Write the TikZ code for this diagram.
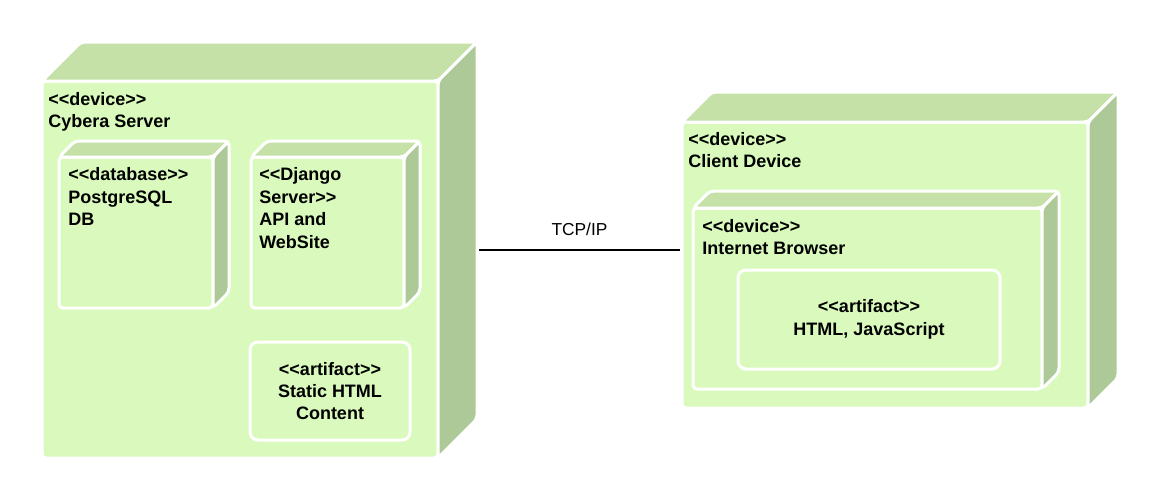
\documentclass[tikz,border=0pt]{standalone}
\usepackage{fontspec}
\setmainfont{Liberation Sans}[Ligatures=TeXOff]
\usetikzlibrary{positioning}

\definecolor{frontgreen}{RGB}{217,250,188}
\definecolor{topgreen}{RGB}{197,225,167}
\definecolor{sidegreen}{RGB}{173,201,151}

\tikzset{
	face/.style={draw=white,line width=2.25pt,rounded corners=3pt},
	front/.style={face,fill=frontgreen,rectangle,inner sep=0pt,outer sep=0pt},
	lbl/.style={font=\bfseries\fontsize{13.5}{16.8}\selectfont,align=left,inner sep=0pt},
	art/.style={front,rounded corners=6pt,font=\bfseries\fontsize{13.5}{16.8}\selectfont,align=center},
}

% 3D device node: name, x0, y0, x1, y1 (front face), depth
\newcommand{\devnode}[6]{%
	\node [front,minimum width={(#4-#2)*0.75pt},minimum height={(#5-#3)*0.75pt}] (#1) at ({(#2+#4)/2},{(#3+#5)/2}) {};
	\draw [face,fill=topgreen] (#1.north west) -- ++(#6,-#6) -- ++({#4-#2},0) -- (#1.north east) -- cycle;
	\draw [face,fill=sidegreen] (#1.north east) -- ++(#6,-#6) -- ++(0,{#5-#3}) -- (#1.south east) -- cycle;
	\coordinate (#1-e) at ({#4+#6+2},{(#3-#6+#5)/2});
	\coordinate (#1-w) at ({#2-2},{(#3-#6+#5)/2});
}

\begin{document}
\begin{tikzpicture}[x=0.75pt,y=-0.75pt]
	\useasboundingbox (0,0) rectangle (1160,501);
	% server side
	\devnode{srv}{42}{81}{438}{458}{39}
	\node [lbl,below right=8.25pt and 4.5pt of srv.north west] (srvtxt) {<<device>>\\Cybera Server};
	\devnode{db}{59}{157}{213}{308}{16}
	\node [lbl,below right=8pt and 6.75pt of db.north west] (dbtxt) {<<database>>\\PostgreSQL\\DB};
	\devnode{dj}{251}{157}{404}{308}{16}
	\node [lbl,below right=8pt and 6pt of dj.north west] (djtxt) {<<Django\\Server>>\\API and\\WebSite};
	\node [art,minimum width=120pt,minimum height=73.5pt] (static) at (330,391) {<<artifact>>\\Static HTML\\Content};
	% client side
	\devnode{cli}{682}{122}{1088}{408}{30}
	\node [lbl,below right=7.5pt and 4.5pt of cli.north west] (clitxt) {<<device>>\\Client Device};
	\devnode{br}{693}{208}{1042}{389}{17}
	\node [lbl,below right=8.25pt and 6.75pt of br.north west] (brtxt) {<<device>>\\Internet Browser};
	\node [art,minimum width=196.5pt,minimum height=74.25pt] (html) at (869,319.5) {<<artifact>>\\HTML, JavaScript};
	% link
	\draw [line width=1pt] (srv-e) -- node [midway,yshift=11.25pt,anchor=base,inner sep=0pt,font=\fontsize{13}{15}\selectfont] (tcp) {TCP/IP} (cli-w);
\end{tikzpicture}
\end{document}
